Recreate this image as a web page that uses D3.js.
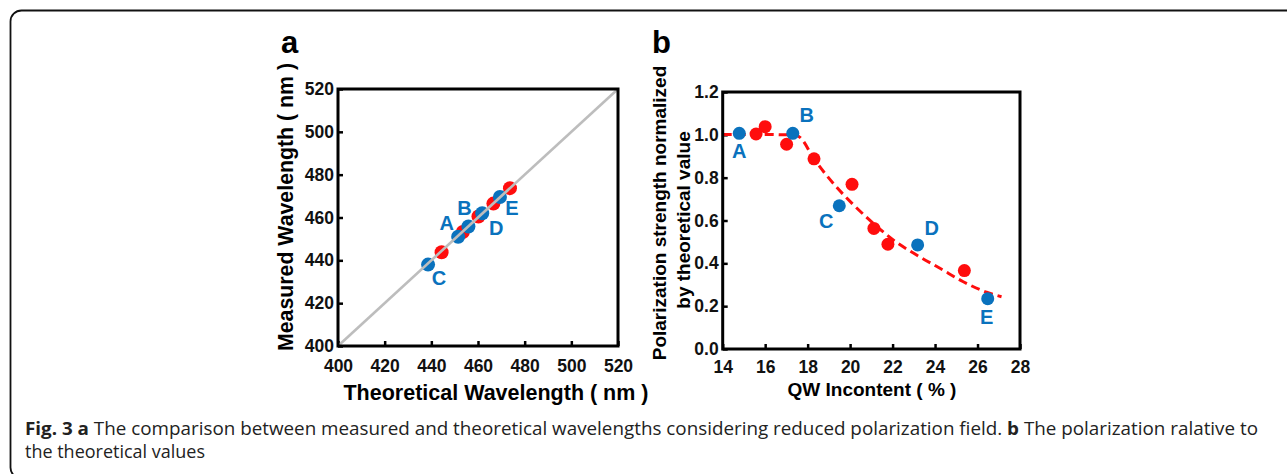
<!DOCTYPE html>
<html>
<head>
<meta charset="utf-8">
<script src="https://cdn.jsdelivr.net/npm/d3@7"></script>
<style>
  body { margin: 0; background: #fff; }
  svg { display: block; }
</style>
</head>
<body>
<svg id="fig"></svg>
<script>
// panel a: theoretical vs measured wavelength (nm)
let redTheo = [444.4, 453.5, 460.2, 466.6, 473.7];
let redMeas = [443.8, 453.2, 460.5, 466.5, 473.7];
let blueTheo = [451.5, 455.9, 438.6, 461.8, 469.4];
let blueMeas = [451.0, 455.8, 438.0, 462.0, 469.6];
let blueNames = ['A', 'B', 'C', 'D', 'E'];
let ticksA = [400, 420, 440, 460, 480, 500, 520];

// panel b: QW In content (%) vs normalized polarization strength
let redIn = [15.57, 16.0, 17.01, 18.3, 20.09, 21.12, 21.78, 25.38];
let redPol = [1.004, 1.038, 0.956, 0.888, 0.769, 0.563, 0.489, 0.366];
let blueIn = [14.78, 17.3, 19.49, 23.18, 26.48];
let bluePol = [1.007, 1.007, 0.669, 0.486, 0.235];
let fitIn = [14.0, 15.0, 16.0, 17.0, 17.4, 17.64, 18.3, 19.21, 20.09, 21.09, 22.03, 23.13, 24.23, 25.33, 26.43, 27.13];
let fitPol = [1.002, 1.002, 1.002, 1.0, 1.0, 0.988, 0.888, 0.773, 0.68, 0.587, 0.509, 0.439, 0.377, 0.314, 0.265, 0.244];
let ticksBx = [14, 16, 18, 20, 22, 24, 26, 28];
let ticksBy = [0, 0.2, 0.4, 0.6, 0.8, 1.0, 1.2];

let width = 1287;
let height = 474;
let red = '#ff0d0d';
let blue = '#0a72bd';
let arial = '"Liberation Sans", Arial, sans-serif';

let svg = d3.select('#fig')
  .attr('width', width).attr('height', height)
  .attr('font-family', arial);

// figure frame
svg.append('rect')
   .attr('x', 10.5).attr('y', 10.5)
   .attr('width', 1300).attr('height', 468)
   .attr('rx', 11)
   .attr('fill', 'none')
   .attr('stroke', '#111')
   .attr('stroke-width', 1.8);

let drawBox = (g, x0, x1, y0, y1) => {
    g.append('rect')
     .attr('x', x0).attr('y', y0)
     .attr('width', x1 - x0).attr('height', y1 - y0)
     .attr('fill', 'none')
     .attr('stroke', '#000')
     .attr('stroke-width', 3);
}

// ---------- panel a ----------
let ax = d3.scaleLinear().domain([400, 520]).range([338, 618]);
let ay = d3.scaleLinear().domain([400, 520]).range([346, 89]);
let ga = svg.append('g');

ga.append('g')
  .attr('transform', 'translate(0,' + ay(400) + ')')
  .call(d3.axisBottom(ax).tickValues(ticksA).tickSizeInner(-5).tickSizeOuter(0).tickPadding(14).tickFormat(d3.format('d')));
ga.append('g')
  .attr('transform', 'translate(' + ax(400) + ',0)')
  .call(d3.axisLeft(ay).tickValues(ticksA).tickSizeInner(-5).tickSizeOuter(0).tickPadding(4).tickFormat(d3.format('d')));

ga.selectAll('.ra').data(redTheo).enter().append('circle')
  .attr('cx', (d) => ax(d))
  .attr('cy', (d, i) => ay(redMeas[i]))
  .attr('r', 7).attr('fill', red);
ga.selectAll('.ba').data(blueTheo).enter().append('circle')
  .attr('cx', (d) => ax(d))
  .attr('cy', (d, i) => ay(blueMeas[i]))
  .attr('r', 7).attr('fill', blue);

// gray line is drawn on top of the markers
ga.append('line')
  .attr('x1', ax(400)).attr('y1', ay(400))
  .attr('x2', ax(520)).attr('y2', ay(520))
  .attr('stroke', '#bdbdbd')
  .attr('stroke-width', 2.6);

drawBox(ga, ax(400), ax(520), ay(520), ay(400));

let labA = [[-11.5, -14], [-4, -18.5], [11, 13.5], [14, 15], [12, 11]]; // offsets from marker (px)
ga.selectAll('.la').data(blueNames).enter().append('text')
  .attr('x', (d, i) => ax(blueTheo[i]) + labA[i][0])
  .attr('y', (d, i) => ay(blueMeas[i]) + labA[i][1])
  .attr('text-anchor', 'middle')
  .attr('dominant-baseline', 'central')
  .attr('font-size', 20).attr('font-weight', 'bold')
  .attr('fill', blue)
  .text((d) => d);

ga.append('text')
  .attr('x', 496).attr('y', 400)
  .attr('text-anchor', 'middle')
  .attr('font-size', 21.5).attr('font-weight', 'bold')
  .text('Theoretical Wavelength ( nm )');
ga.append('text')
  .attr('transform', 'translate(293,207) rotate(-90)')
  .attr('text-anchor', 'middle')
  .attr('font-size', 21.3).attr('font-weight', 'bold')
  .text('Measured Wavelength ( nm )');
ga.append('text')
  .attr('x', 281).attr('y', 53)
  .attr('font-size', 31).attr('font-weight', 'bold')
  .text('a');

// ---------- panel b ----------
let bx = d3.scaleLinear().domain([14, 28]).range([722.7, 1020]);
let by = d3.scaleLinear().domain([0, 1.2]).range([349, 92]);
let gb = svg.append('g');

gb.append('g')
  .attr('transform', 'translate(0,' + by(0) + ')')
  .call(d3.axisBottom(bx).tickValues(ticksBx).tickSizeInner(-5).tickSizeOuter(0).tickPadding(12).tickFormat(d3.format('d')));
gb.append('g')
  .attr('transform', 'translate(' + bx(14) + ',0)')
  .call(d3.axisLeft(by).tickValues(ticksBy).tickSizeInner(-5).tickSizeOuter(0).tickPadding(4).tickFormat(d3.format('.1f')));

let fitLine = d3.line()
  .x((d) => bx(d))
  .y((d, i) => by(fitPol[i]))
  .curve(d3.curveMonotoneX);
gb.append('path')
  .datum(fitIn)
  .attr('d', fitLine)
  .attr('fill', 'none')
  .attr('stroke', red)
  .attr('stroke-width', 3)
  .attr('stroke-dasharray', '9,5');

gb.selectAll('.rb').data(redIn).enter().append('circle')
  .attr('cx', (d) => bx(d))
  .attr('cy', (d, i) => by(redPol[i]))
  .attr('r', 6.5).attr('fill', red);
gb.selectAll('.bb').data(blueIn).enter().append('circle')
  .attr('cx', (d) => bx(d))
  .attr('cy', (d, i) => by(bluePol[i]))
  .attr('r', 6.5).attr('fill', blue);

drawBox(gb, bx(14), bx(28), by(1.2), by(0));

let labB = [[0, 18], [14, -18], [-13, 15], [14, -17], [-1, 18]];
gb.selectAll('.lb').data(blueNames).enter().append('text')
  .attr('x', (d, i) => bx(blueIn[i]) + labB[i][0])
  .attr('y', (d, i) => by(bluePol[i]) + labB[i][1])
  .attr('text-anchor', 'middle')
  .attr('dominant-baseline', 'central')
  .attr('font-size', 20).attr('font-weight', 'bold')
  .attr('fill', blue)
  .text((d) => d);

gb.append('text')
  .attr('x', 872).attr('y', 396)
  .attr('text-anchor', 'middle')
  .attr('font-size', 19).attr('font-weight', 'bold')
  .text('QW Incontent ( % )');
gb.append('text')
  .attr('transform', 'translate(666,213) rotate(-90)')
  .attr('text-anchor', 'middle')
  .attr('font-size', 19).attr('font-weight', 'bold')
  .text('Polarization strength normalized');
gb.append('text')
  .attr('transform', 'translate(690,220) rotate(-90)')
  .attr('text-anchor', 'middle')
  .attr('font-size', 19).attr('font-weight', 'bold')
  .text('by theoretical value');
gb.append('text')
  .attr('x', 652).attr('y', 53)
  .attr('font-size', 31).attr('font-weight', 'bold')
  .text('b');

// shared axis styling
svg.selectAll('.tick line').attr('stroke', '#000').attr('stroke-width', 2.5);
svg.selectAll('.domain').attr('stroke', 'none');
svg.selectAll('.tick text')
   .attr('font-family', arial)
   .attr('font-size', 17.5).attr('font-weight', 'bold').attr('fill', '#111');

// caption
let capFont = '"Open Sans", "Noto Sans", sans-serif';
let cap = svg.append('text')
  .attr('x', 25).attr('y', 435)
  .attr('font-family', capFont)
  .attr('font-size', 17.5).attr('fill', '#222')
  .attr('textLength', 1233).attr('lengthAdjust', 'spacingAndGlyphs');
cap.append('tspan').attr('font-weight', 'bold').text('Fig. 3 a');
cap.append('tspan').text(' The comparison between measured and theoretical wavelengths considering reduced polarization field. ');
cap.append('tspan').attr('font-weight', 'bold').text('b');
cap.append('tspan').text(' The polarization ralative to');
svg.append('text')
  .attr('x', 25).attr('y', 457.5)
  .attr('font-family', capFont)
  .attr('font-size', 17.5).attr('fill', '#222')
  .attr('textLength', 180).attr('lengthAdjust', 'spacingAndGlyphs')
  .text('the theoretical values');
</script>
</body>
</html>
